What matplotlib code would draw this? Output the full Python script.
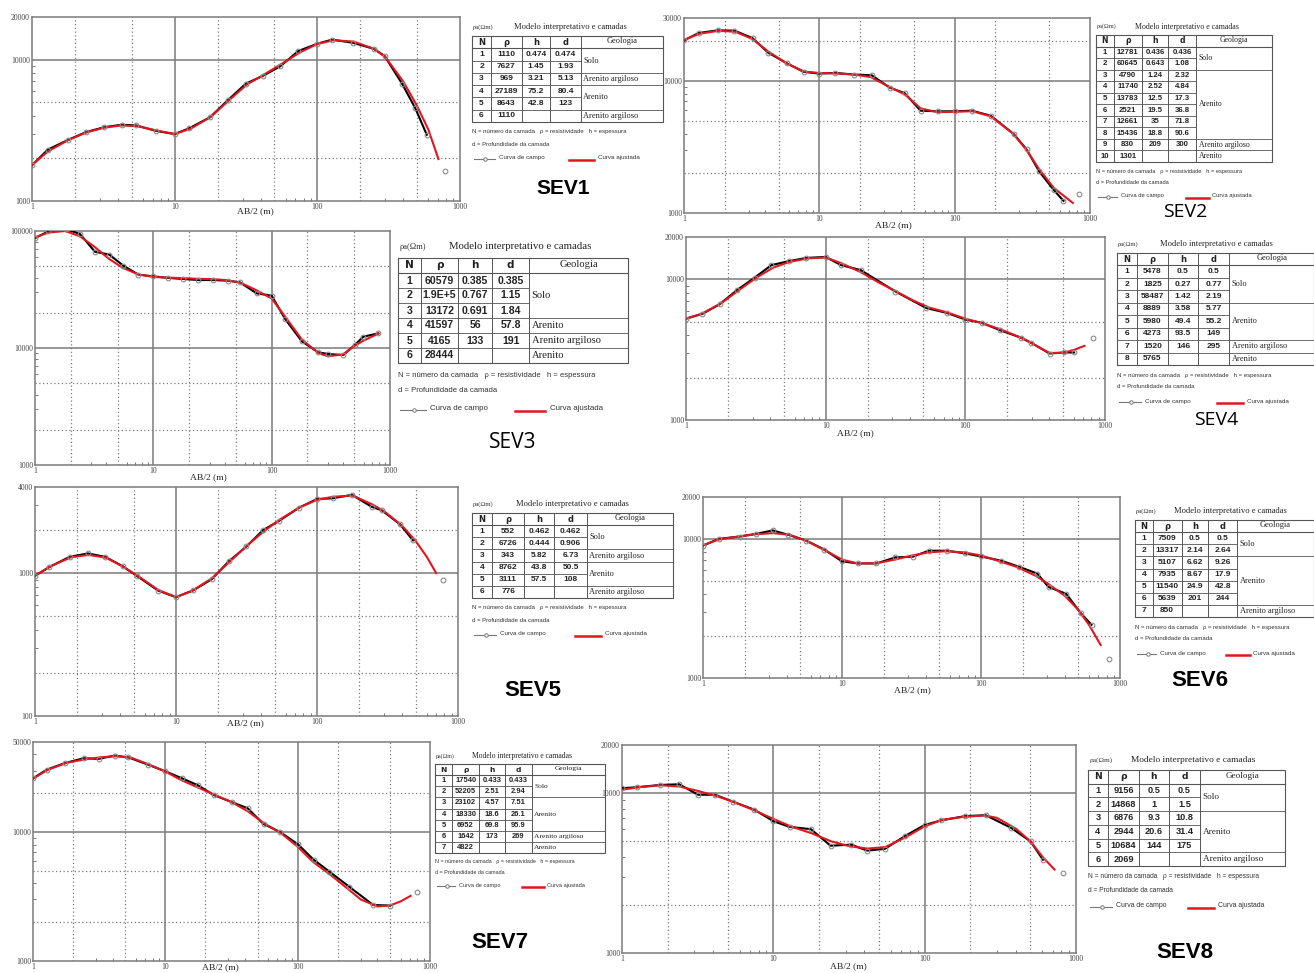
import numpy as np
import matplotlib.pyplot as plt
from matplotlib.ticker import FixedLocator, NullFormatter, FixedFormatter

# ---- SEV1 ----
sev1_ab2 = [1, 1.29, 1.8, 2.39, 3.21, 4.25, 5.4, 7.37, 10, 12.7, 17.7, 23.7, 31.6, 41.3, 55, 73.6, 100, 127, 177, 248, 296, 392, 486, 585, 785]
sev1_rho = [1790, 2306, 2712, 3069, 3326, 3460, 3420, 3134, 2972, 3275, 3910, 5180, 6770, 7640, 8970, 11500, 12940, 13840, 13150, 11930, 10610, 6770, 4530, 2940, 1642]
sev1_fit_ab2 = [1, 1.3, 1.8, 2.4, 3.2, 4.2, 5.5, 7.5, 10, 13, 18, 24, 32, 42, 55, 75, 100, 130, 180, 250, 300, 400, 500, 600, 706]
sev1_fit_rho = [1800, 2250, 2700, 3050, 3300, 3420, 3380, 3150, 2980, 3250, 3950, 5150, 6650, 7800, 9200, 11200, 12900, 13700, 13400, 11900, 10400, 7000, 4700, 3200, 1980]
sev1_lay_rho = ["1110", "7627", "969", "27189", "8643", "1110"]
sev1_lay_h = ["0.474", "1.45", "3.21", "75.2", "42.8", ""]
sev1_lay_d = ["0.474", "1.93", "5.13", "80.4", "123", ""]
sev1_geo = [("Solo", 1, 2), ("Arenito argiloso", 3, 3), ("Arenito", 4, 5), ("Arenito argiloso", 6, 6)]

# ---- SEV2 ----
sev2_ab2 = [1, 1.28, 1.77, 2.36, 3.21, 4.18, 5.77, 7.68, 10, 13.1, 18.1, 24.4, 33.2, 42.7, 56, 75.6, 100, 134, 185, 274, 340, 421, 540, 637, 830]
sev2_rho = [20280, 23070, 24190, 24060, 21130, 16400, 13590, 11720, 11380, 11510, 11190, 11050, 8890, 8090, 5960, 5890, 5890, 5960, 5450, 3950, 3030, 2065, 1494, 1236, 1382]
sev2_fit_ab2 = [1, 1.3, 1.8, 2.4, 3.2, 4.2, 5.8, 7.7, 10, 13, 18, 24, 33, 43, 56, 75, 100, 135, 185, 270, 340, 420, 540, 640, 746]
sev2_fit_rho = [20500, 22800, 24000, 23600, 20800, 16700, 13500, 11800, 11500, 11400, 11200, 10700, 9000, 7900, 6200, 5800, 5850, 5900, 5400, 4000, 3000, 2150, 1550, 1350, 1193]
sev2_lay_rho = ["12781", "60645", "4790", "11740", "13783", "2521", "12661", "15436", "830", "1301"]
sev2_lay_h = ["0.436", "0.643", "1.24", "2.52", "12.5", "19.5", "35", "18.8", "209", ""]
sev2_lay_d = ["0.436", "1.08", "2.32", "4.84", "17.3", "36.8", "71.8", "90.6", "300", ""]
sev2_geo = [("Solo", 1, 2), ("Arenito", 3, 8), ("Arenito argiloso", 9, 9), ("Arenito", 10, 10)]

# ---- SEV3 ----
sev3_ab2 = [1, 1.30, 1.82, 2.40, 3.21, 4.25, 5.57, 7.46, 9.87, 13.4, 17.9, 24.0, 32.1, 42.5, 54, 74.7, 100, 130, 180, 248, 301, 403, 506, 596, 797]
sev3_rho = [87100, 99300, 104000, 94200, 66500, 62800, 50600, 42400, 41000, 39700, 38900, 38100, 38100, 37600, 36400, 29300, 28000, 17700, 11400, 9180, 8880, 8710, 10670, 12500, 13330]
sev3_fit_ab2 = [1, 1.3, 1.8, 2.4, 3.2, 4.2, 5.5, 7.5, 10, 13, 18, 24, 32, 42, 55, 75, 100, 130, 180, 250, 300, 400, 500, 600, 800]
sev3_fit_rho = [88000, 97000, 100000, 90000, 73000, 58000, 48500, 42500, 40500, 40000, 39500, 39000, 38800, 38000, 36000, 31000, 26500, 18500, 11800, 9000, 8500, 8800, 10400, 11600, 13300]
sev3_lay_rho = ["60579", "1.9E+5", "13172", "41597", "4165", "28444"]
sev3_lay_h = ["0.385", "0.767", "0.691", "56", "133", ""]
sev3_lay_d = ["0.385", "1.15", "1.84", "57.8", "191", ""]
sev3_geo = [("Solo", 1, 3), ("Arenito", 4, 4), ("Arenito argiloso", 5, 5), ("Arenito", 6, 6)]

# ---- SEV4 ----
sev4_ab2 = [1, 1.31, 1.75, 2.33, 3.10, 4.09, 5.43, 7.28, 10, 12.9, 17.8, 31.6, 52.6, 73.8, 100, 131, 178, 250, 295, 401, 508, 601, 816]
sev4_rho = [5260, 5680, 6670, 8420, 10280, 12620, 13460, 14200, 14430, 12620, 11640, 8190, 6250, 5770, 5180, 4910, 4340, 3850, 3550, 2970, 3020, 3020, 3850]
sev4_fit_ab2 = [1, 1.3, 1.8, 2.4, 3.2, 4.2, 5.5, 7.5, 10, 13, 18, 24, 32, 42, 55, 75, 100, 130, 180, 250, 300, 400, 500, 600, 713]
sev4_fit_rho = [5250, 5700, 6800, 8400, 10300, 12100, 13300, 14100, 14300, 13000, 11200, 9500, 8200, 7100, 6300, 5800, 5250, 4900, 4400, 3850, 3500, 3000, 3000, 3150, 3365]
sev4_lay_rho = ["5478", "1825", "58487", "8889", "5980", "4273", "1520", "5765"]
sev4_lay_h = ["0.5", "0.27", "1.42", "3.58", "49.4", "93.5", "146", ""]
sev4_lay_d = ["0.5", "0.77", "2.19", "5.77", "55.2", "149", "295", ""]
sev4_geo = [("Solo", 1, 3), ("Arenito", 4, 6), ("Arenito argiloso", 7, 7), ("Arenito", 8, 8)]

# ---- SEV5 ----
sev5_ab2 = [1, 1.26, 1.76, 2.37, 3.15, 4.18, 5.26, 7.47, 10, 13.3, 17.9, 23.7, 31.6, 41.3, 54, 74.8, 100, 129, 177, 245, 288, 387, 480, 780]
sev5_rho = [957, 1100, 1298, 1372, 1298, 1117, 957, 754, 678, 758, 905, 1208, 1534, 1992, 2324, 2869, 3297, 3335, 3525, 2904, 2747, 2198, 1693, 895]
sev5_fit_ab2 = [1, 1.3, 1.8, 2.4, 3.2, 4.2, 5.5, 7.5, 10, 13, 18, 24, 32, 42, 55, 75, 100, 130, 180, 250, 300, 400, 500, 600, 700]
sev5_fit_rho = [960, 1120, 1290, 1340, 1280, 1110, 940, 760, 680, 750, 920, 1200, 1560, 1960, 2380, 2880, 3250, 3420, 3480, 3000, 2700, 2150, 1680, 1300, 1000]
sev5_lay_rho = ["552", "6726", "343", "8762", "3111", "776"]
sev5_lay_h = ["0.462", "0.444", "5.82", "43.8", "57.5", ""]
sev5_lay_d = ["0.462", "0.906", "6.73", "50.5", "108", ""]
sev5_geo = [("Solo", 1, 2), ("Arenito argiloso", 3, 3), ("Arenito", 4, 5), ("Arenito argiloso", 6, 6)]

# ---- SEV6 ----
sev6_ab2 = [1, 1.30, 1.84, 2.41, 3.18, 4.10, 5.53, 7.46, 10, 13.1, 17.7, 24.2, 32.3, 42.1, 56.8, 76.6, 100, 140, 188, 254, 306, 410, 521, 624, 830]
sev6_rho = [8950, 10000, 10400, 10870, 11500, 10700, 9730, 8380, 6890, 6660, 6660, 7360, 7450, 8220, 8220, 7870, 7480, 6960, 6300, 5630, 4510, 4030, 2930, 2414, 1380]
sev6_fit_ab2 = [1, 1.3, 1.8, 2.4, 3.2, 4.2, 5.5, 7.5, 10, 13, 18, 24, 32, 42, 55, 75, 100, 130, 180, 250, 300, 400, 500, 600, 726]
sev6_fit_rho = [9000, 9900, 10400, 10800, 11000, 10700, 9700, 8300, 7100, 6650, 6700, 7100, 7600, 8000, 8150, 8000, 7600, 7000, 6300, 5400, 4800, 3900, 3100, 2400, 1727]
sev6_lay_rho = ["7509", "13317", "5107", "7935", "11540", "5639", "850"]
sev6_lay_h = ["0.5", "2.14", "6.62", "8.67", "24.9", "201", ""]
sev6_lay_d = ["0.5", "2.64", "9.26", "17.9", "42.8", "244", ""]
sev6_geo = [("Solo", 1, 2), ("Arenito", 3, 6), ("Arenito argiloso", 7, 7)]

# ---- SEV7 ----
sev7_ab2 = [1, 1.27, 1.74, 2.41, 3.13, 4.13, 5.26, 7.43, 10, 13.4, 17.6, 23.2, 31.7, 41.9, 55.2, 73.8, 100, 132, 174, 246, 372, 501, 791]
sev7_rho = [26100, 30500, 34300, 37400, 37000, 39200, 38000, 33300, 29600, 26100, 23100, 19400, 17100, 15300, 11560, 10000, 8070, 6110, 4930, 3760, 2720, 2690, 3430]
sev7_fit_ab2 = [1, 1.3, 1.8, 2.4, 3.2, 4.2, 5.5, 7.5, 10, 13, 18, 24, 32, 42, 55, 75, 100, 130, 180, 250, 300, 400, 500, 600, 713]
sev7_fit_rho = [26000, 30500, 34500, 36500, 38000, 38800, 37800, 33500, 29500, 25500, 22000, 19300, 17000, 14500, 11800, 9800, 7700, 5900, 4600, 3500, 3000, 2650, 2700, 2900, 3200]
sev7_lay_rho = ["17540", "52205", "23102", "18330", "6952", "1642", "4822"]
sev7_lay_h = ["0.433", "2.51", "4.57", "18.6", "69.8", "173", ""]
sev7_lay_d = ["0.433", "2.94", "7.51", "26.1", "95.9", "269", ""]
sev7_geo = [("Solo", 1, 2), ("Arenito", 3, 5), ("Arenito argiloso", 6, 6), ("Arenito", 7, 7)]

# ---- SEV8 ----
sev8_ab2 = [1, 1.26, 1.79, 2.39, 3.18, 4.12, 5.45, 7.46, 10, 12.8, 17.7, 23.9, 32.7, 41.8, 54.5, 74.6, 100, 129, 185, 253, 371, 501, 605, 817]
sev8_rho = [10730, 10890, 11250, 11360, 9770, 9770, 8810, 7890, 6680, 6150, 5950, 4690, 4760, 4370, 4480, 5410, 6320, 6760, 7180, 7280, 6080, 4990, 3830, 3170]
sev8_fit_ab2 = [1, 1.3, 1.8, 2.4, 3.2, 4.2, 5.5, 7.5, 10, 13, 18, 24, 32, 42, 55, 75, 100, 130, 180, 250, 300, 400, 500, 600, 721]
sev8_fit_rho = [10500, 10900, 11200, 11000, 10300, 9600, 8800, 7800, 6900, 6200, 5600, 5000, 4650, 4500, 4600, 5300, 6200, 6800, 7100, 7250, 7000, 6000, 5000, 4000, 3325]
sev8_lay_rho = ["9156", "14868", "6876", "2944", "10684", "2069"]
sev8_lay_h = ["0.5", "1", "9.3", "20.6", "144", ""]
sev8_lay_d = ["0.5", "1.5", "10.8", "31.4", "175", ""]
sev8_geo = [("Solo", 1, 2), ("Arenito", 3, 5), ("Arenito argiloso", 6, 6)]

W, H = 1314, 973
fig = plt.figure(figsize=(W / 100, H / 100), dpi=100)
fig.patch.set_facecolor("white")

# overlay in pixel coords for tables and labels
ov = fig.add_axes([0, 0, 1, 1])
ov.set_xlim(0, W)
ov.set_ylim(H, 0)
ov.axis("off")

SERIF = ["Liberation Serif", "DejaVu Serif"]
NARROW = ["Liberation Sans Narrow", "Liberation Sans", "DejaVu Sans"]
RED = "#e3151f"
GRID = "#7a7a7a"


def sev_plot(box, ylim, ytick_vals, ab2, rho, fit_ab2, fit_rho, detached_last=True):
    x0, y0, x1, y1 = box
    ax = fig.add_axes([x0 / W, 1 - y1 / H, (x1 - x0) / W, (y1 - y0) / H])
    ax.set_xscale("log")
    ax.set_yscale("log")
    ax.set_xlim(1, 1000)
    ax.set_ylim(*ylim)
    for v in [10, 100]:
        ax.axvline(v, color=GRID, lw=1.1, zorder=1)
    for v in [2, 5, 20, 50, 200, 500]:
        ax.axvline(v, color=GRID, lw=0.9, ls=(0, (1, 2)), zorder=1)
    for dec in [10, 100, 1000, 10000, 100000]:
        if ylim[0] < dec < ylim[1]:
            ax.axhline(dec, color=GRID, lw=1.1, zorder=1)
        for m in [2, 5]:
            if ylim[0] < dec * m < ylim[1] * 0.97:
                ax.axhline(dec * m, color=GRID, lw=0.9, ls=(0, (1, 2)), zorder=1)
    for s in ax.spines.values():
        s.set_color(GRID)
        s.set_linewidth(1.1)
    ax.xaxis.set_major_locator(FixedLocator([1, 10, 100, 1000]))
    ax.xaxis.set_major_formatter(FixedFormatter(["1", "10", "100", "1000"]))
    ax.xaxis.set_minor_locator(FixedLocator([m * 10 ** k for k in range(3) for m in [3, 4, 6, 7, 8, 9]]))
    ax.xaxis.set_minor_formatter(NullFormatter())
    ax.yaxis.set_major_locator(FixedLocator(ytick_vals))
    ax.yaxis.set_major_formatter(FixedFormatter([str(v) for v in ytick_vals]))
    ax.yaxis.set_minor_locator(FixedLocator([m * 10 ** k for k in range(2, 5) for m in [3, 4, 6, 7, 8, 9]
                                             if ylim[0] < m * 10 ** k < ylim[1]]))
    ax.yaxis.set_minor_formatter(NullFormatter())
    ax.tick_params(which="major", length=0, pad=1.5, labelsize=5.5, labelcolor="#444")
    ax.tick_params(which="minor", direction="in", length=2.5, color="#777", width=0.7)
    for lab in ax.get_xticklabels() + ax.get_yticklabels():
        lab.set_family(SERIF)
    n = len(ab2) - 1 if detached_last else len(ab2)
    ax.plot(ab2[:n], rho[:n], color="black", lw=1.5, zorder=3)
    ax.plot(fit_ab2, fit_rho, color=RED, lw=1.5, zorder=4)
    ax.plot(ab2, rho, "o", mfc="none", mec="#8a8a8a", ms=3.4, mew=0.8, zorder=5)
    return ax


def sev_table(box, lay_rho, lay_h, lay_d, geo, fs):
    x0, y0, x1, y1 = box
    w = x1 - x0
    nrow = len(lay_rho) + 1
    rh = (y1 - y0) / nrow
    fr = np.cumsum([0, 0.10, 0.16, 0.15, 0.16, 0.43])
    cx = [x0 + f * w for f in fr]
    lc = "#555555"
    # outer box and vertical lines
    ov.plot([x0, x1, x1, x0, x0], [y0, y0, y1, y1, y0], color=lc, lw=0.8)
    for c in cx[1:5]:
        ov.plot([c, c], [y0, y1], color=lc, lw=0.7)
    ov.plot([x0, x1], [y0 + rh, y0 + rh], color=lc, lw=0.8)
    # row lines for numeric columns
    for i in range(2, nrow):
        yy = y0 + i * rh
        ov.plot([x0, cx[4]], [yy, yy], color=lc, lw=0.6)
    # geology group lines
    for name, a, b in geo:
        if b < len(lay_rho):
            yy = y0 + (b + 1) * rh
            ov.plot([cx[4], x1], [yy, yy], color=lc, lw=0.6)
        ov.text(cx[4] + 2.5, y0 + (a + b + 1) / 2 * rh, name, fontsize=fs, family=SERIF,
                ha="left", va="center", color="#222")
    heads = ["N", "ρ", "h", "d"]
    for j, hd in enumerate(heads):
        ov.text((cx[j] + cx[j + 1]) / 2, y0 + rh / 2, hd, fontsize=fs, weight="bold",
                ha="center", va="center", color="#222")
    ov.text((cx[4] + x1) / 2, y0 + rh / 2 - 1, "Geologia", fontsize=fs, family=SERIF,
            ha="center", va="center", color="#222")
    for i in range(len(lay_rho)):
        yc = y0 + (i + 1.5) * rh
        vals = [str(i + 1), lay_rho[i], lay_h[i], lay_d[i]]
        for j, v in enumerate(vals):
            ov.text((cx[j] + cx[j + 1]) / 2, yc, v, fontsize=fs, weight="bold", family=NARROW,
                    ha="center", va="center", color="#222")
    # title
    k = fs / 6.0
    ov.text(x0 + 1, y0 - 9 * k, "ρa(Ωm)", fontsize=fs * 0.8, family=SERIF, ha="left", va="center", color="#333")
    ov.text(x0 + 0.22 * w, y0 - 9 * k, "Modelo interpretativo e camadas", fontsize=fs * 1.02, family=SERIF,
            ha="left", va="center", color="#222")
    # notes
    ov.text(x0, y1 + 10 * k, "N = número da camada   ρ = resistividade   h = espessura", fontsize=fs * 0.72,
            family=NARROW, ha="left", va="center", color="#333")
    ov.text(x0, y1 + 22 * k, "d = Profundidade da camada", fontsize=fs * 0.72,
            family=NARROW, ha="left", va="center", color="#333")
    yl = y1 + 37 * k
    ov.plot([x0 + 2, x0 + 0.12 * w], [yl, yl], color="#777", lw=0.8)
    ov.plot([x0 + 0.07 * w], [yl], "o", mfc="white", mec="#777", ms=2.5, mew=0.7)
    ov.text(x0 + 0.14 * w, yl - 1, "Curva de campo", fontsize=fs * 0.75, family=NARROW,
            ha="left", va="center", color="#333")
    ov.plot([x0 + 0.51 * w, x0 + 0.64 * w], [yl + 1, yl + 1], color=RED, lw=1.8)
    ov.text(x0 + 0.66 * w, yl - 1, "Curva ajustada", fontsize=fs * 0.75, family=NARROW,
            ha="left", va="center", color="#333")


# ---- panels ----
sev_plot((32, 17, 460, 201), (1000, 20000), [1000, 10000, 20000], sev1_ab2, sev1_rho, sev1_fit_ab2, sev1_fit_rho)
sev_table((472, 36, 663, 122), sev1_lay_rho, sev1_lay_h, sev1_lay_d, sev1_geo, 6)

sev_plot((684, 18, 1090, 213), (1000, 30000), [1000, 10000, 30000], sev2_ab2, sev2_rho, sev2_fit_ab2, sev2_fit_rho)
sev_table((1096, 35, 1272, 162), sev2_lay_rho, sev2_lay_h, sev2_lay_d, sev2_geo, 5.6)

sev_plot((35, 231, 390, 465), (1000, 100000), [1000, 10000, 100000], sev3_ab2, sev3_rho, sev3_fit_ab2, sev3_fit_rho,
         detached_last=False)
sev_table((398, 258, 628, 363), sev3_lay_rho, sev3_lay_h, sev3_lay_d, sev3_geo, 7.6)

sev_plot((686, 237, 1105, 420), (1000, 20000), [1000, 10000, 20000], sev4_ab2, sev4_rho, sev4_fit_ab2, sev4_fit_rho)
sev_table((1117, 253, 1314, 365), sev4_lay_rho, sev4_lay_h, sev4_lay_d, sev4_geo, 6)

sev_plot((35, 487, 458, 716), (100, 4000), [100, 1000, 4000], sev5_ab2, sev5_rho, sev5_fit_ab2, sev5_fit_rho)
sev_table((472, 513, 673, 598), sev5_lay_rho, sev5_lay_h, sev5_lay_d, sev5_geo, 6)

sev_plot((703, 497, 1120, 678), (1000, 20000), [1000, 10000, 20000], sev6_ab2, sev6_rho, sev6_fit_ab2, sev6_fit_rho)
sev_table((1135, 520, 1314, 617), sev6_lay_rho, sev6_lay_h, sev6_lay_d, sev6_geo, 6)

sev_plot((33, 742, 430, 961), (1000, 50000), [1000, 10000, 50000], sev7_ab2, sev7_rho, sev7_fit_ab2, sev7_fit_rho)
sev_table((435, 764, 605, 853), sev7_lay_rho, sev7_lay_h, sev7_lay_d, sev7_geo, 5.4)

sev_plot((622, 745, 1076, 953), (1000, 20000), [1000, 10000, 20000], sev8_ab2, sev8_rho, sev8_fit_ab2, sev8_fit_rho)
sev_table((1088, 770, 1285, 866), sev8_lay_rho, sev8_lay_h, sev8_lay_d, sev8_geo, 6.6)

# axis titles
for (px, py) in [(255, 211), (893, 225), (208, 477), (855, 433), (245, 723), (912, 690), (220, 967), (848, 966)]:
    ov.text(px, py, "AB/2 (m)", fontsize=6.8, family=SERIF, ha="center", va="center", color="#222")

# panel labels
ov.text(563, 188, "SEV1", fontsize=15, weight="bold", family=["Liberation Sans"], ha="center", va="center")
ov.text(1185, 212, "SEV2", fontsize=14, family=["Open Sans", "DejaVu Sans"], ha="center", va="center")
ov.text(513, 443, "SEV3", fontsize=15, family=["Open Sans", "DejaVu Sans"], ha="center", va="center")
ov.text(1216, 420, "SEV4", fontsize=14, family=["Open Sans", "DejaVu Sans"], ha="center", va="center")
ov.text(533, 690, "SEV5", fontsize=16, weight="bold", family=["Liberation Sans"], ha="center", va="center")
ov.text(1200, 680, "SEV6", fontsize=16, weight="bold", family=["Liberation Sans"], ha="center", va="center")
ov.text(500, 943, "SEV7", fontsize=16, weight="bold", family=["Liberation Sans"], ha="center", va="center")
ov.text(1185, 952, "SEV8", fontsize=16, weight="bold", family=["Liberation Sans"], ha="center", va="center")

fig.savefig("out.png", dpi=100)
